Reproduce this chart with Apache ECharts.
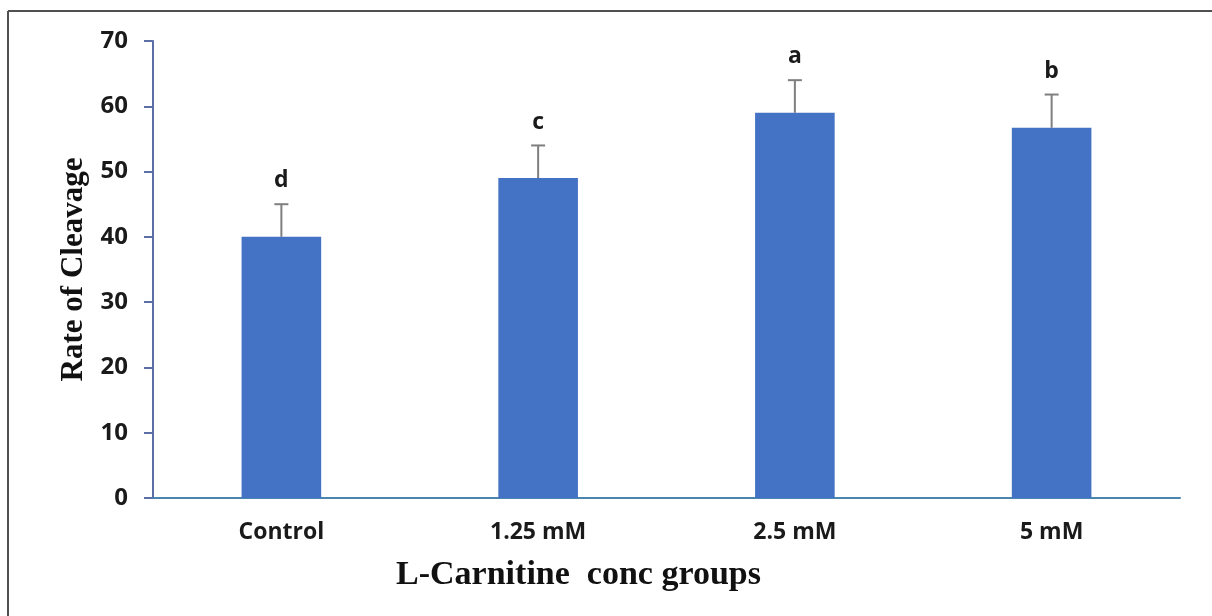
<!DOCTYPE html>
<html>
<head>
<meta charset="utf-8">
<style>
  html, body { margin: 0; padding: 0; background: #ffffff; }
  #chart { width: 1212px; height: 616px; }
</style>
<script src="https://cdn.jsdelivr.net/npm/echarts@6/dist/echarts.min.js"></script>
</head>
<body>
<div id="chart"></div>
<script>
// ---- data ----
const categories = ['Control', '1.25 mM', '2.5 mM', '5 mM'];
const means = [40, 49, 59, 56.7];
const errors = [5, 5, 5, 5.1];
const letters = ['d', 'c', 'a', 'b'];
const yTicks = { min: 0, max: 70, interval: 10 };
const xTitle = 'L-Carnitine  conc groups';
const yTitle = 'Rate of Cleavage';

const errData = categories.map((c, i) => [i, means[i], means[i] + errors[i]]);

const chart = echarts.init(document.getElementById('chart'), null, { renderer: 'canvas' });

const option = {
  backgroundColor: '#ffffff',
  animation: false,
  graphic: [
    { type: 'line', shape: { x1: 8, y1: 11, x2: 1212, y2: 11 }, style: { stroke: '#505050', lineWidth: 2 } },
    { type: 'line', shape: { x1: 8, y1: 11, x2: 8, y2: 616 }, style: { stroke: '#505050', lineWidth: 2 } }
  ],
  grid: { left: 153, right: 32, top: 41, bottom: 118, containLabel: false },
  xAxis: {
    type: 'category',
    data: categories,
    axisLine: { show: true, lineStyle: { color: '#4a86b0', width: 2 } },
    axisTick: { show: false },
    axisLabel: {
      margin: 23,
      fontFamily: 'Open Sans',
      fontWeight: 'bold',
      fontSize: 23,
      color: '#1a1a1a'
    },
    name: xTitle,
    nameLocation: 'middle',
    nameGap: 60,
    nameTextStyle: {
      fontFamily: 'Liberation Serif',
      fontWeight: 'bold',
      fontSize: 34,
      color: '#111111',
      padding: [0, 176, 0, 0]
    }
  },
  yAxis: {
    type: 'value',
    min: yTicks.min,
    max: yTicks.max,
    interval: yTicks.interval,
    splitLine: { show: false },
    axisLine: { show: true, lineStyle: { color: '#5b6fa5', width: 2 } },
    axisTick: { show: true, inside: false, length: 9, lineStyle: { color: '#5b6fa5', width: 2 } },
    axisLabel: {
      margin: 25,
      fontFamily: 'Open Sans',
      fontWeight: 'bold',
      fontSize: 24,
      color: '#1a1a1a'
    },
    name: yTitle,
    nameLocation: 'middle',
    nameGap: 64,
    nameRotate: 90,
    nameTextStyle: {
      fontFamily: 'Liberation Serif',
      fontWeight: 'bold',
      fontSize: 31,
      color: '#111111'
    }
  },
  series: [
    {
      type: 'bar',
      data: means,
      barWidth: '31%',
      itemStyle: { color: '#4472c4' },
      z: 2
    },
    {
      type: 'custom',
      data: errData,
      z: 3,
      renderItem: function (params, api) {
        const x = api.value(0);
        const lo = api.coord([x, api.value(1)]);
        const hi = api.coord([x, api.value(2)]);
        const half = 7;
        return {
          type: 'group',
          children: [
            { type: 'line', shape: { x1: hi[0], y1: lo[1], x2: hi[0], y2: hi[1] }, style: { stroke: '#7f7f7f', lineWidth: 2 } },
            { type: 'line', shape: { x1: hi[0] - half, y1: hi[1], x2: hi[0] + half, y2: hi[1] }, style: { stroke: '#7f7f7f', lineWidth: 2 } },
            { type: 'text', style: {
                x: hi[0], y: hi[1] - 12,
                text: letters[params.dataIndex],
                align: 'center', verticalAlign: 'bottom',
                fontFamily: 'Open Sans', fontWeight: 'bold', fontSize: 23, fill: '#1a1a1a'
              } }
          ]
        };
      }
    }
  ]
};
chart.setOption(option);
</script>
</body>
</html>
